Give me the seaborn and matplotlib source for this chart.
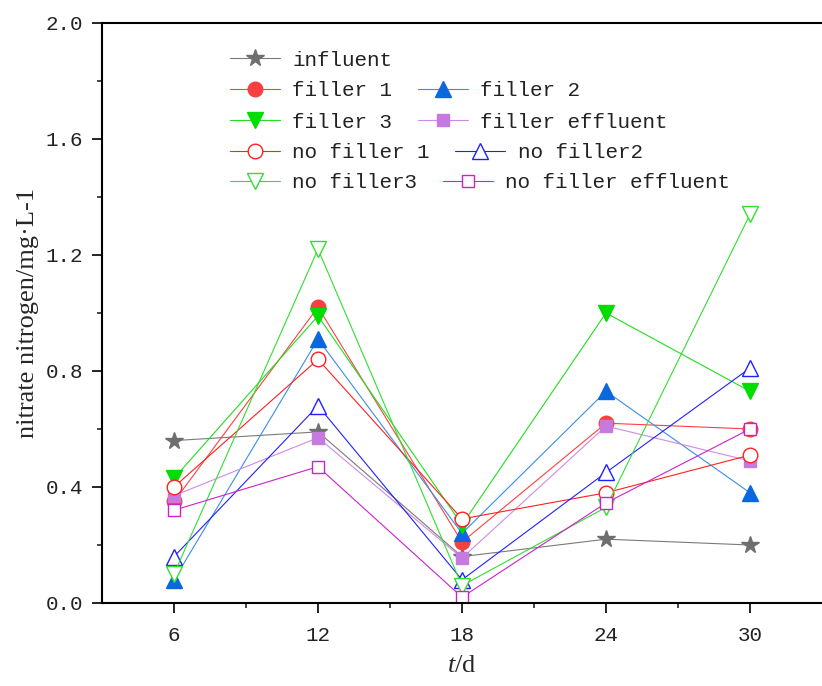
import matplotlib
matplotlib.use("Agg")
import matplotlib.pyplot as plt
import seaborn as sns

# sampling days
days = [6, 12, 18, 24, 30]

# nitrate nitrogen (mg/L) per sampling point
influent = [0.56, 0.59, 0.16, 0.22, 0.20]
filler_1 = [0.35, 1.02, 0.21, 0.62, 0.60]
filler_2 = [0.08, 0.91, 0.24, 0.73, 0.38]
filler_3 = [0.43, 0.99, 0.27, 1.00, 0.73]
filler_effluent = [0.37, 0.57, 0.155, 0.61, 0.49]
no_filler_1 = [0.40, 0.84, 0.29, 0.38, 0.51]
no_filler_2 = [0.16, 0.68, 0.08, 0.45, 0.81]
no_filler_3 = [0.10, 1.22, 0.06, 0.33, 1.34]
no_filler_effluent = [0.32, 0.47, 0.02, 0.345, 0.60]

series = [
    # label, values, line colour, marker, face, edge, size
    ("influent", influent, "#7a7a7a", "*", "#6e6e6e", "#6e6e6e", 13),
    ("filler 1", filler_1, "#ff4040", "o", "#f84040", "#f84040", 10.5),
    ("filler 2", filler_2, "#3a8ee8", "^", "#0a68dc", "#0a68dc", 11.5),
    ("filler 3", filler_3, "#22dd22", "v", "#00dd00", "#00dd00", 11.5),
    ("filler effluent", filler_effluent, "#cf8ae8", "s", "#c67ae0", "#c67ae0", 9),
    ("no filler 1", no_filler_1, "#ff2020", "o", "white", "#ff2020", 10.5),
    ("no filler2", no_filler_2, "#2020ff", "^", "white", "#2020ff", 11.5),
    ("no filler3", no_filler_3, "#33dd33", "v", "white", "#33dd33", 11.5),
    ("no filler effluent", no_filler_effluent, "#cc22cc", "s", "white", "#cc22cc", 9),
]

sns.set_style("ticks")
plt.rcParams["font.family"] = ["Liberation Mono", "DejaVu Sans"]
plt.rcParams["mathtext.fontset"] = "custom"
plt.rcParams["mathtext.it"] = "Liberation Serif:italic"
plt.rcParams["mathtext.rm"] = "Liberation Serif"

fig = plt.figure(figsize=(8.22, 6.86), dpi=100)
ax = fig.add_axes([0.1241, 0.121, 0.8759, 0.8455])

handles = {}
for label, vals, lc, mk, fc, ec, ms in series:
    sns.lineplot(x=days, y=vals, ax=ax, color=lc, linewidth=0.8,
                 marker=mk, markerfacecolor=fc, markeredgecolor=ec,
                 markeredgewidth=1.0, markersize=ms, label=label)
    handles[label] = ax.get_lines()[-1]

ax.set_xlim(3, 33)
ax.set_ylim(0, 2.0)
ax.set_xticks(days)
ax.set_xticks([9, 15, 21, 27], minor=True)
ax.set_yticks([0.0, 0.4, 0.8, 1.2, 1.6, 2.0])
ax.set_yticks([0.2, 0.6, 1.0, 1.4, 1.8], minor=True)
ax.set_yticklabels([f"{v:.1f}" for v in [0.0, 0.4, 0.8, 1.2, 1.6, 2.0]])

for side in ["left", "bottom", "top"]:
    ax.spines[side].set_linewidth(1.5)
    ax.spines[side].set_color("black")
ax.spines["right"].set_visible(False)

ax.tick_params(axis="both", which="major", direction="out", length=7.5,
               width=1.2, labelsize=15, pad=6, colors="black")
ax.tick_params(axis="x", which="major", pad=9)
ax.tick_params(axis="both", which="minor", direction="out", length=3.8,
               width=1.2)
ax.tick_params(top=False, right=False, which="both")
for t in ax.get_xticklabels() + ax.get_yticklabels():
    t.set_color("#222222")

ax.set_ylabel("nitrate nitrogen/mg·L-1", fontfamily="Liberation Serif",
              fontsize=19, labelpad=5)
ax.set_xlabel(r"$\mathit{t}$/d", fontfamily="Liberation Serif",
              fontsize=19, labelpad=7)

ax.get_legend().remove()

# legend laid out in five rows
rows = [
    (["influent"], 60),
    (["filler 1", "filler 2"], 91),
    (["filler 3", "filler effluent"], 122),
    (["no filler 1", "no filler2"], 153),
    (["no filler3", "no filler effluent"], 183),
]
H = 686.0
legends = []
for labels, yc in rows:
    leg = ax.legend([handles[l] for l in labels], labels, ncol=len(labels),
                    loc="center left", bbox_to_anchor=(230 / 822, 1 - yc / H),
                    bbox_transform=fig.transFigure, frameon=False,
                    borderpad=0, borderaxespad=0, handlelength=2.4,
                    handletextpad=0.6, columnspacing=1.2,
                    prop={"family": "Liberation Mono", "size": 15})
    for txt in leg.get_texts():
        txt.set_color("#222222")
    legends.append(leg)
for leg in legends[:-1]:
    ax.add_artist(leg)

fig.savefig("out.png", dpi=100)
